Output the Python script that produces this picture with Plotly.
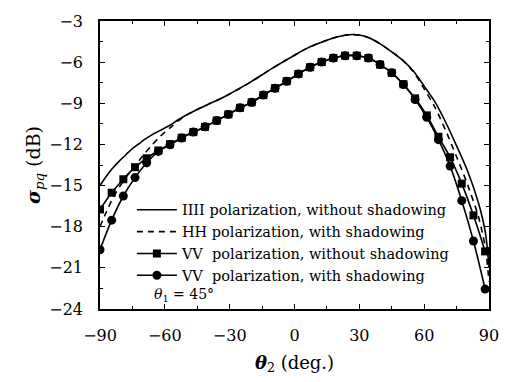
import plotly.graph_objects as go

# ---- data ----
theta_marker = [-90, -84.6, -79.2, -73.8, -68.4, -63, -57.6, -52.2, -46.8, -41.4,
                -36, -30.6, -25.2, -19.8, -14.4, -9, -3.6, 1.8, 7.2, 12.6,
                18, 23.4, 28.8, 34.2, 39.6, 45, 50.4, 55.8, 61.2, 66.6,
                72, 77.4, 82.8, 88.2]
vv_no_shadow = [-16.74, -15.52, -14.54, -13.66, -13.01, -12.44, -11.98, -11.51, -11.10, -10.72,
                -10.26, -9.81, -9.33, -8.93, -8.40, -7.90, -7.39, -6.86, -6.37, -5.99,
                -5.70, -5.53, -5.53, -5.70, -6.18, -6.78, -7.61, -8.64, -9.88, -11.44,
                -12.94, -14.86, -17.17, -19.80]
vv_shadow = [-19.68, -17.52, -15.76, -14.42, -13.34, -12.51, -12.03, -11.53, -11.10, -10.72,
             -10.26, -9.81, -9.33, -8.93, -8.40, -7.90, -7.39, -6.86, -6.37, -5.99,
             -5.70, -5.53, -5.53, -5.70, -6.18, -6.78, -7.63, -8.72, -10.02, -11.65,
             -13.58, -16.10, -19.04, -22.55]

theta_line = [-90, -87, -84, -81, -78, -75, -72, -69, -66, -63, -60, -57, -54, -50, -45,
              -40, -35, -30, -25, -20, -15, -10, -5, 0, 5, 10, 15, 20, 25, 30,
              35, 40, 45, 50, 55, 60, 65, 70, 75, 80, 85, 87, 88.5, 90]
hh_no_shadow = [-15.0, -14.3, -13.7, -13.2, -12.75, -12.3, -11.95, -11.6, -11.3, -11.05, -10.8, -10.55, -10.22, -9.85, -9.45,
                -9.08, -8.72, -8.32, -7.88, -7.42, -6.92, -6.42, -5.95, -5.5, -5.05, -4.7, -4.4, -4.15, -4.0, -4.02,
                -4.25, -4.7, -5.25, -5.85, -6.65, -7.75, -8.9, -10.4, -12.1, -13.9, -16.2, -17.4, -18.6, -21.0]
hh_shadow = [-18.0, -16.9, -15.9, -15.1, -14.4, -13.8, -13.2, -12.6, -12.05, -11.55, -11.1, -10.72, -10.3, -9.87, -9.45,
             -9.08, -8.72, -8.32, -7.88, -7.42, -6.92, -6.42, -5.95, -5.5, -5.05, -4.7, -4.4, -4.15, -4.0, -4.02,
             -4.25, -4.7, -5.25, -5.85, -6.7, -7.95, -9.3, -11.0, -12.9, -14.9, -17.2, -18.5, -19.7, -22.0]

legend_names = ["IIII polarization, without shadowing",
                "HH polarization, with shadowing",
                "VV  polarization, without shadowing",
                "VV  polarization, with shadowing"]

x_ticks = [-90, -60, -30, 0, 30, 60, 90]
y_ticks = [-3, -6, -9, -12, -15, -18, -21, -24]

FONT = "DejaVu Serif"

fig = go.Figure()
fig.add_trace(go.Scatter(x=theta_line, y=hh_no_shadow, mode="lines", name=legend_names[0],
                         line=dict(color="black", width=1.6, shape="spline", smoothing=0.8)))
fig.add_trace(go.Scatter(x=theta_line, y=hh_shadow, mode="lines", name=legend_names[1],
                         line=dict(color="black", width=1.6, dash="6px,5px", shape="spline", smoothing=0.8)))
fig.add_trace(go.Scatter(x=theta_marker, y=vv_no_shadow, mode="lines+markers", name=legend_names[2],
                         line=dict(color="black", width=1.6, shape="spline"),
                         marker=dict(symbol="square", size=8, color="black")))
fig.add_trace(go.Scatter(x=theta_marker, y=vv_shadow, mode="lines+markers", name=legend_names[3],
                         line=dict(color="black", width=1.6, shape="spline"),
                         marker=dict(symbol="circle", size=9, color="black")))

fig.add_annotation(x=-66, y=-23.0, xref="x", yref="y", xanchor="left", yanchor="middle",
                   text="<i>θ</i><sub>1</sub> = 45°", showarrow=False,
                   font=dict(family=FONT, size=14, color="black"))

axis_common = dict(showline=True, linecolor="black", linewidth=1.5, mirror="allticks",
                   ticks="inside", ticklen=5, tickwidth=1.2, tickcolor="black",
                   showgrid=False, zeroline=False,
                   tickfont=dict(family=FONT, size=16, color="black"))

fig.update_xaxes(range=[-90, 90], tickvals=x_ticks, ticktext=[str(v).replace("-", "−") for v in x_ticks],
                 minor=dict(ticks="inside", ticklen=3, dtick=15, tick0=-90, tickcolor="black", tickwidth=1),
                 title=dict(text="<i><b>θ</b></i><sub>2</sub> (deg.)", font=dict(family=FONT, size=18, color="black"),
                            standoff=12),
                 ticklabelstandoff=11,
                 **axis_common)
fig.update_yaxes(range=[-24, -3], tickvals=y_ticks, ticktext=[str(v).replace("-", "−") for v in y_ticks],
                 minor=dict(ticks="inside", ticklen=3, dtick=1.5, tick0=-24, tickcolor="black", tickwidth=1),
                 title=dict(text="<i><b>σ</b></i><sub><i>pq</i></sub> (dB)", font=dict(family=FONT, size=19, color="black"),
                            standoff=4),
                 ticklabelstandoff=12,
                 **axis_common)

fig.update_layout(
    width=511, height=382,
    margin=dict(l=100, r=16, t=19, b=70),
    plot_bgcolor="white", paper_bgcolor="white",
    font=dict(family=FONT, color="black"),
    legend=dict(x=0.082, y=0.40, xanchor="left", yanchor="top", bgcolor="rgba(0,0,0,0)",
                borderwidth=0, font=dict(family=FONT, size=14.5, color="black"),
                itemwidth=40, tracegroupgap=0),
    showlegend=True,
)

fig.write_html("out.html")
